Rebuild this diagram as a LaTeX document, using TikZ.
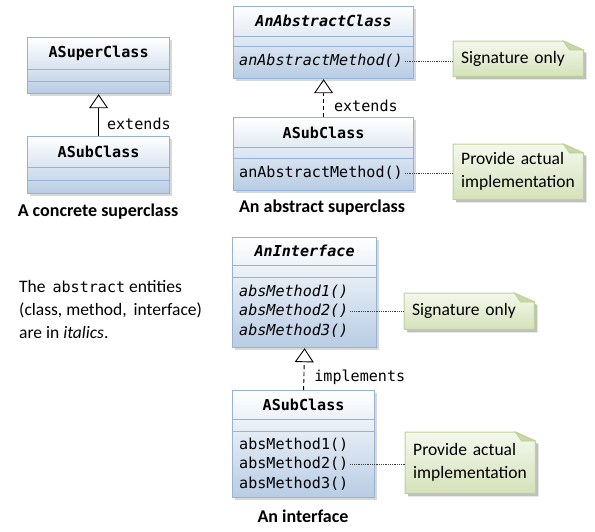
\documentclass[tikz,border=0pt]{standalone}
\usepackage{fontspec}
\setmainfont{Carlito}
\newfontfamily\codefont{DejaVu Sans Mono}
\usetikzlibrary{arrows.meta,shadows,backgrounds,positioning}

\definecolor{boxline}{RGB}{149,179,215}
\definecolor{boxfill}{RGB}{184,204,228}
\definecolor{noteline}{RGB}{190,210,150}
\definecolor{notetop}{RGB}{244,248,236}
\definecolor{notebot}{RGB}{213,226,186}
\definecolor{notefold}{RGB}{200,214,168}

\newcommand{\cf}{\codefont\fontsize{15.1}{19.5}\selectfont}
\newcommand{\nf}{\fontsize{17.5}{23}\selectfont}

\tikzset{
  umlbox/.style={draw=boxline, line width=1.2pt, top color=white, bottom color=boxfill,
    anchor=north west, inner sep=0pt,
    drop shadow={shadow xshift=2.5pt, shadow yshift=-2.5pt, fill=black!30}},
  compline/.style={boxline, line width=0.9pt},
  cname/.style={font=\cf\bfseries, inner sep=1pt},
  code/.style={font=\cf, inner sep=2pt},
  note/.style={anchor=north west, minimum width=130pt, text width=114pt, inner xsep=8pt,
    inner ysep=0pt, align=left, font=\nf},
  caption/.style={font=\fontsize{18}{21}\selectfont\bfseries},
  link/.style={black!75, densely dotted, line width=0.8pt},
  extends/.style={line width=0.9pt, -{Triangle[open, width=19pt, length=14pt]}},
  implements/.style={extends, dash pattern=on 4pt off 3pt}
}

% two compartment lines below the class name
\newcommand{\complines}[3]{%
  \draw[compline] ([yshift=-#2pt]#1.north west) -- ([yshift=-#2pt]#1.north east);
  \draw[compline] ([yshift=-#3pt]#1.north west) -- ([yshift=-#3pt]#1.north east);}

% note body with folded corner, behind the note text
\newcommand{\notebody}[1]{%
  \begin{scope}[on background layer]
  \fill[black!25] ([shift={(3pt,-3pt)}]#1.north west) -- ([shift={(-17pt,-3pt)}]#1.north east)
    -- ([shift={(3pt,-12pt)}]#1.north east) -- ([shift={(3pt,-3pt)}]#1.south east)
    -- ([shift={(3pt,-3pt)}]#1.south west) -- cycle;
  \shadedraw[draw=noteline, line width=1pt, top color=notetop, bottom color=notebot]
    (#1.north west) -- ([xshift=-20pt]#1.north east) -- ([yshift=-9pt]#1.north east)
    -- (#1.south east) -- (#1.south west) -- cycle;
  \filldraw[draw=noteline, fill=notefold, line width=0.8pt] ([xshift=-20pt]#1.north east)
    -- ([xshift=-14pt, yshift=-9pt]#1.north east) -- ([yshift=-9pt]#1.north east) -- cycle;
  \end{scope}}

\begin{document}
\begin{tikzpicture}[x=1pt, y=-1pt, line join=bevel]
\useasboundingbox (0,0) rectangle (595,531);

%% a concrete superclass
\node[umlbox, minimum width=142pt, minimum height=56pt] (super) at (27,37) {};
\node[cname] (supername) at ([yshift=-16pt]super.north) {ASuperClass};
\complines{super}{32}{44}

\node[umlbox, minimum width=142pt, minimum height=57pt] (sub) at (27,136) {};
\node[cname] (subname) at ([yshift=-16pt]sub.north) {ASubClass};
\complines{sub}{31}{44}

\draw[extends] (sub.north) -- (super.south) node[pos=0.3, right=6pt, code] (ext1) {extends};
\node[caption] (cap1) at (98,212) {A concrete superclass};

%% an abstract superclass
\node[umlbox, minimum width=180pt, minimum height=72pt] (abs) at (233,6) {};
\node[cname] (absname) at ([yshift=-15pt]abs.north) {\itshape AnAbstractClass};
\complines{abs}{30}{40}
\node[code, anchor=west] (absm) at (237,61) {\itshape anAbstractMethod()};

\node[umlbox, minimum width=180pt, minimum height=73pt] (asub) at (233,117) {};
\node[cname] (asubname) at ([yshift=-16pt]asub.north) {ASubClass};
\complines{asub}{30}{41}
\node[code, anchor=west] (asubm) at (237,173) {anAbstractMethod()};

\draw[implements] (asub.north) -- (abs.south)
  node[pos=0.3, right=8pt, code, solid] (ext2) {extends};
\node[caption] (cap2) at (322,208) {An abstract superclass};

\node[note, minimum height=35pt] (n1) at (453,41) {Signature only};
\notebody{n1}
\node[note, minimum height=55pt] (n2) at (453,144) {Provide actual\\implementation};
\notebody{n2}
\draw[link] (absm.east) -- (absm.east -| n1.west);
\draw[link] (asubm.east) -- (asubm.east -| n2.west);

%% an interface
\node[anchor=north west, align=left, font=\nf, inner sep=0pt] (remark) at (19,280)
  {The \,{\cf abstract} entities\\(class, method, \,interface)\\are in \textit{italics}.};

\node[umlbox, minimum width=144pt, minimum height=110pt] (iface) at (232,237) {};
\node[cname] (ifacename) at ([yshift=-14pt]iface.north) {\itshape AnInterface};
\complines{iface}{28}{40}
\node[code, anchor=west, align=left] (ifacem) at (237,311)
  {\itshape absMethod1()\\\itshape absMethod2()\\\itshape absMethod3()};

\node[umlbox, minimum width=142pt, minimum height=107pt] (isub) at (232,390) {};
\node[cname] (isubname) at ([yshift=-15pt]isub.north) {ASubClass};
\complines{isub}{29}{41}
\node[code, anchor=west, align=left] (isubm) at (237,464)
  {absMethod1()\\absMethod2()\\absMethod3()};

\draw[implements] (isub.north) -- (iface.south)
  node[pos=0.3, right=8pt, code, solid] (impl) {implements};
\node[caption] (cap3) at (303,516) {An interface};

\node[note, minimum height=36pt] (n3) at (404,293) {Signature only};
\notebody{n3}
\node[note, minimum height=61pt] (n4) at (405,432) {Provide actual\\implementation};
\notebody{n4}
\draw[link] (ifacem.east) -- (ifacem.east -| n3.west);
\draw[link] (isubm.east) -- (isubm.east -| n4.west);

\end{tikzpicture}
\end{document}
